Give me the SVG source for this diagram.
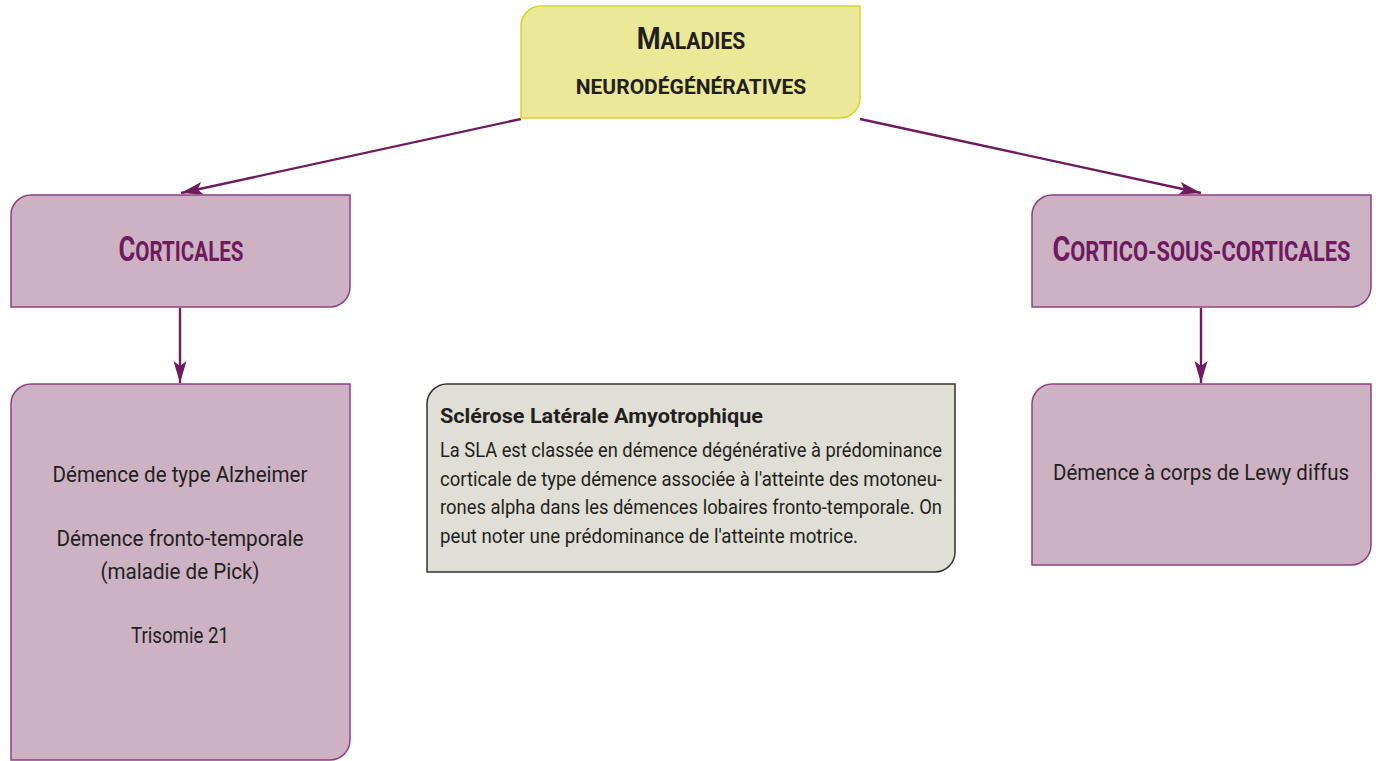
<svg xmlns="http://www.w3.org/2000/svg" width="1376" height="761" viewBox="0 0 1376 761">
<style>
.box{fill:#cdb2c4;stroke:#8e3f84;stroke-width:1.5}
.top{fill:#ebe897;stroke:#d8d232;stroke-width:1.5}
.sla{fill:#e0dfd6;stroke:#333;stroke-width:1.5}
.head{font-family:Roboto,"Liberation Sans",sans-serif;font-weight:bold;fill:#6d1a5e;text-anchor:middle}
.ttl{font-family:Roboto,"Liberation Sans",sans-serif;font-weight:bold;fill:#231f20;text-anchor:middle}
.body{font-family:Roboto,"Liberation Sans",sans-serif;font-size:21.5px;fill:#231f20;text-anchor:middle}
.sl{font-family:Roboto,"Liberation Sans",sans-serif;font-size:20px;fill:#231f20}
.conn{stroke:#6d1a5e;stroke-width:2.4;fill:none}
</style>
<defs>
<marker id="ah" markerWidth="24" markerHeight="14" refX="22" refY="7" orient="auto" markerUnits="userSpaceOnUse" viewBox="0 0 24 14">
<path d="M0,0.5 L22,7 L0,13.5 L5,7 Z" fill="#6d1a5e"/>
</marker>
</defs>
<g id="connectors">
<line class="conn" x1="521" y1="119" x2="181" y2="193" marker-end="url(#ah)"/>
<line class="conn" x1="860" y1="119" x2="1201" y2="193" marker-end="url(#ah)"/>
<line class="conn" x1="180" y1="308" x2="180" y2="383" marker-end="url(#ah)"/>
<line class="conn" x1="1201" y1="308" x2="1201" y2="383" marker-end="url(#ah)"/>
</g>
<g id="root">
<path class="top" d="M541,6 H860 V98 A20,20 0 0 1 840,118 H521 V26 A20,20 0 0 1 541,6 Z"/>
<text class="ttl" transform="translate(691,49) scale(0.88,1)"><tspan font-size="31">M</tspan><tspan font-size="24">ALADIES</tspan></text>
<text class="ttl" x="691" y="94" font-size="21">NEURODÉGÉNÉRATIVES</text>
</g>
<g id="corticales">
<path class="box" d="M31,195 H350 V287 A20,20 0 0 1 330,307 H11 V215 A20,20 0 0 1 31,195 Z"/>
<text class="head" transform="translate(181,261) scale(0.735,1)"><tspan font-size="35">C</tspan><tspan font-size="28">ORTICALES</tspan></text>
</g>
<g id="cortico-sous-corticales">
<path class="box" d="M1052,195 H1371 V287 A20,20 0 0 1 1351,307 H1032 V215 A20,20 0 0 1 1052,195 Z"/>
<text class="head" transform="translate(1201.5,261) scale(0.78,1)"><tspan font-size="35">C</tspan><tspan font-size="28">ORTICO-SOUS-CORTICALES</tspan></text>
</g>
<g id="corticales-list">
<path class="box" d="M31,384 H350 V740 A20,20 0 0 1 330,760 H11 V404 A20,20 0 0 1 31,384 Z"/>
<text class="body" x="180" y="482" textLength="255" lengthAdjust="spacingAndGlyphs">Démence de type Alzheimer</text>
<text class="body" x="180" y="546" textLength="247" lengthAdjust="spacingAndGlyphs">Démence fronto-temporale</text>
<text class="body" x="180" y="579" textLength="159" lengthAdjust="spacingAndGlyphs">(maladie de Pick)</text>
<text class="body" x="180" y="643" textLength="98" lengthAdjust="spacingAndGlyphs">Trisomie 21</text>
</g>
<g id="sous-corticales-list">
<path class="box" d="M1052,384 H1371 V545 A20,20 0 0 1 1351,565 H1032 V404 A20,20 0 0 1 1052,384 Z"/>
<text class="body" x="1201" y="480" textLength="296" lengthAdjust="spacingAndGlyphs">Démence à corps de Lewy diffus</text>
</g>
<g id="sla">
<path class="sla" d="M447,384 H955 V552 A20,20 0 0 1 935,572 H427 V404 A20,20 0 0 1 447,384 Z"/>
<text class="sl" x="440" y="423" font-weight="bold" textLength="323" lengthAdjust="spacingAndGlyphs">Sclérose Latérale Amyotrophique</text>
<text class="sl" x="440" y="457" textLength="502" lengthAdjust="spacingAndGlyphs">La SLA est classée en démence dégénérative à prédominance</text>
<text class="sl" x="440" y="486" textLength="502" lengthAdjust="spacingAndGlyphs">corticale de type démence associée à l'atteinte des motoneu-</text>
<text class="sl" x="440" y="514" textLength="502" lengthAdjust="spacingAndGlyphs">rones alpha dans les démences lobaires fronto-temporale. On</text>
<text class="sl" x="440" y="543" textLength="418" lengthAdjust="spacingAndGlyphs">peut noter une prédominance de l'atteinte motrice.</text>
</g>
</svg>
